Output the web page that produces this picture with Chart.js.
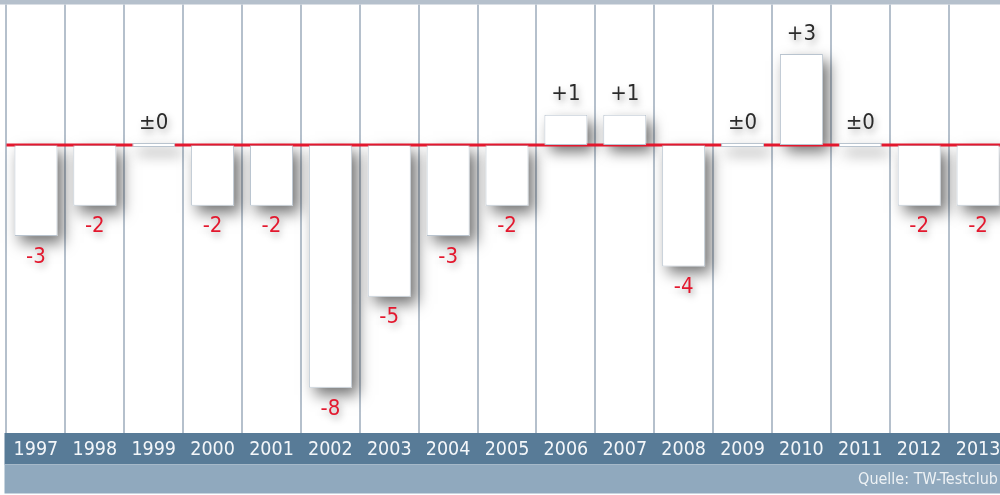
<!DOCTYPE html>
<html><head><meta charset="utf-8">
<script src="https://cdn.jsdelivr.net/npm/chart.js@4.4.1/dist/chart.umd.min.js"></script>
<style>html,body{margin:0;padding:0;overflow:hidden;background:#fff}canvas{display:block}</style>
</head><body>
<canvas id="c" width="1010" height="495" style="width:1010px;height:495px"></canvas>
<script>
const years = ['1997','1998','1999','2000','2001','2002','2003','2004','2005','2006','2007','2008','2009','2010','2011','2012','2013'];
const changes = [-3,-2,0,-2,-2,-8,-5,-3,-2,1,1,-4,0,3,0,-2,-2];
const yMin = -9.49;
const yMax = 4.63;
const sourceText = 'Quelle: TW-Testclub';

function fmt(v){ return v > 0 ? '+' + v : (v < 0 ? '-' + Math.abs(v) : '\u00B10'); }

const RED = '#e3182e';
const yearFont = "'DejaVu Sans Condensed', 'DejaVu Sans', sans-serif";
const valFont = "'DejaVu Sans Condensed', 'DejaVu Sans', sans-serif";

const decor = {
  id: 'decor',
  beforeDraw(chart) {
    const {ctx, chartArea: a, width: W} = chart;
    ctx.save();
    ctx.fillStyle = '#ffffff';
    ctx.fillRect(0, 0, W, chart.height);
    ctx.fillStyle = '#b5c0cc';
    ctx.fillRect(0, 0, W, 4.5);
    ctx.fillStyle = '#587b97';
    ctx.fillRect(4.5, a.bottom, W, 31);
    ctx.fillStyle = '#90a9be';
    ctx.fillRect(4.5, a.bottom + 31, W, 29.5);
    ctx.fillStyle = '#a6b9c9';
    ctx.fillRect(4.5, a.bottom + 31, W, 1);
    ctx.restore();
  },
  beforeDatasetsDraw(chart) {
    const {ctx, chartArea: a} = chart;
    const meta = chart.getDatasetMeta(0);
    const y0 = chart.scales.y.getPixelForValue(0);
    ctx.save();
    ctx.shadowColor = 'rgba(0,0,0,0.55)';
    ctx.shadowBlur = 14;
    ctx.shadowOffsetX = 6;
    ctx.shadowOffsetY = 7;
    ctx.fillStyle = '#ffffff';
    meta.data.forEach(el => {
      const p = el.getProps(['x','y','base','width'], true);
      const top = Math.min(p.y, p.base), h = Math.abs(p.base - p.y);
      ctx.fillRect(p.x - p.width/2, top, p.width, h);
    });
    ctx.restore();
    ctx.save();
    ctx.fillStyle = RED;
    ctx.fillRect(a.left, y0 - 1.5, a.right - a.left, 3);
    ctx.restore();
  },
  afterDatasetsDraw(chart) {
    const {ctx} = chart;
    const meta = chart.getDatasetMeta(0);
    ctx.save();
    ctx.strokeStyle = 'rgba(227,24,46,0.55)';
    ctx.lineWidth = 1;
    meta.data.forEach((el, i) => {
      if (changes[i] === 0) return;
      const p = el.getProps(['x','base','width'], true);
      const yy = Math.round(p.base) + 0.5;
      ctx.beginPath();
      ctx.moveTo(p.x - p.width/2, yy);
      ctx.lineTo(p.x + p.width/2, yy);
      ctx.stroke();
    });
    ctx.restore();
    ctx.save();
    ctx.font = '22px ' + valFont;
    ctx.textAlign = 'center';
    ctx.textBaseline = 'middle';
    ctx.shadowColor = 'rgba(0,0,0,0.35)';
    ctx.shadowBlur = 7;
    ctx.shadowOffsetX = 2;
    ctx.shadowOffsetY = 4;
    meta.data.forEach((el, i) => {
      const v = changes[i];
      const p = el.getProps(['x','y','base'], true);
      let ty;
      if (v < 0) { ctx.fillStyle = RED; ty = Math.max(p.y, p.base) + 21; }
      else { ctx.fillStyle = '#2b2b2b'; ty = Math.min(p.y, p.base) - 20; }
      ctx.fillText(fmt(v), p.x, ty);
    });
    ctx.restore();
  },
  afterDraw(chart) {
    const {ctx, chartArea: a} = chart;
    ctx.save();
    ctx.font = '16px ' + yearFont;
    ctx.fillStyle = '#eef2f5';
    ctx.textAlign = 'right';
    ctx.textBaseline = 'middle';
    ctx.fillText(sourceText, 998, a.bottom + 47);
    ctx.restore();
  }
};

new Chart(document.getElementById('c'), {
  type: 'bar',
  data: {
    labels: years,
    datasets: [{
      data: changes,
      backgroundColor: '#ffffff',
      borderColor: '#b9c4cf',
      borderWidth: 1,
      borderSkipped: false,
      barPercentage: 0.73,
      categoryPercentage: 1,
      minBarLength: 4
    }]
  },
  options: {
    responsive: false,
    devicePixelRatio: 1,
    animation: false,
    layout: { padding: { top: 4.5, left: 6.5, right: 2.5, bottom: 28.6 } },
    plugins: { legend: { display: false }, tooltip: { enabled: false } },
    scales: {
      x: {
        offset: true,
        grid: { offset: true, color: '#b5c0cc', lineWidth: 2, drawTicks: false },
        border: { display: false },
        ticks: { color: '#f4f7fa', font: { size: 19.5, family: yearFont }, padding: 5, autoSkip: false, maxRotation: 0 }
      },
      y: { display: false, min: yMin, max: yMax }
    }
  },
  plugins: [decor]
});
</script>
</body></html>
